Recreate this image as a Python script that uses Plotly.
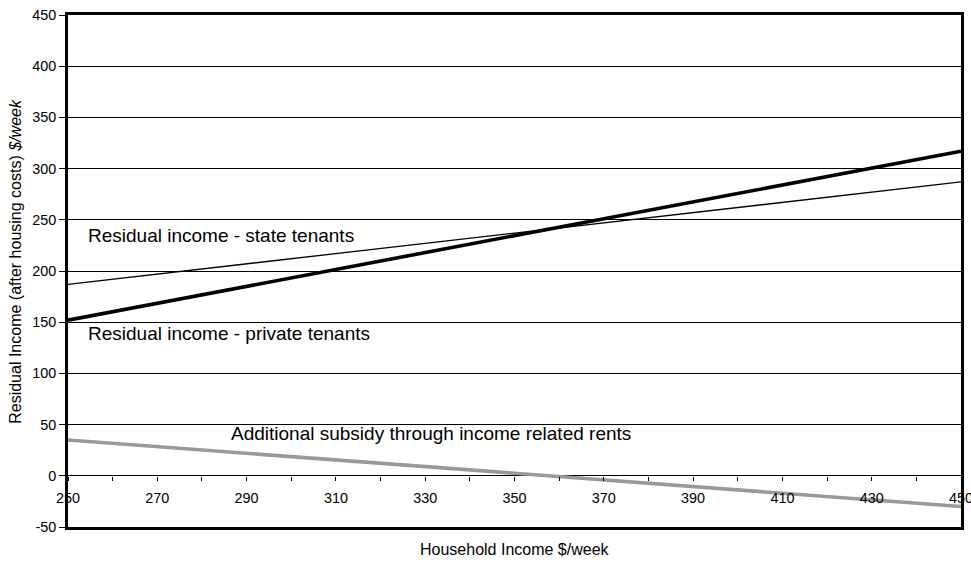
import plotly.graph_objects as go

# Household income ($/week) at the ends of each series
income = [250, 450]

# Residual income after housing costs ($/week)
private_tenants = [152, 317]
state_tenants = [187, 287]
# Additional subsidy through income related rents ($/week)
subsidy = [35, -30]

x_tick_vals = list(range(250, 451, 10))
x_tick_text = [str(v) if (v - 250) % 20 == 0 else "" for v in x_tick_vals]
y_tick_vals = list(range(-50, 451, 50))
y_tick_text = [str(v) for v in y_tick_vals]

FONT = "Arial, Liberation Sans, sans-serif"

fig = go.Figure()

fig.add_trace(go.Scatter(x=income, y=state_tenants, mode="lines",
                         line=dict(color="black", width=1.3), showlegend=False))
fig.add_trace(go.Scatter(x=income, y=private_tenants, mode="lines",
                         line=dict(color="black", width=3.6), showlegend=False))
fig.add_trace(go.Scatter(x=income, y=subsidy, mode="lines",
                         line=dict(color="#999999", width=3.6), showlegend=False,
                         cliponaxis=False))
# invisible trace to activate the x axis drawn along y = 0
fig.add_trace(go.Scatter(x=income, y=[None, None], xaxis="x2", showlegend=False,
                         hoverinfo="skip"))

fig.update_layout(
    width=971, height=565,
    margin=dict(l=68, r=10, t=15, b=38, autoexpand=False),
    paper_bgcolor="white", plot_bgcolor="white",
    font=dict(family=FONT, size=14, color="black"),
    xaxis=dict(range=[250, 450], showgrid=False, zeroline=False,
               showticklabels=False, ticks="", automargin=False,
               showline=True, mirror=True, linecolor="black", linewidth=2.5),
    xaxis2=dict(range=[250, 450], overlaying="x", anchor="free", position=0.1,
                tickmode="array", tickvals=x_tick_vals, ticktext=x_tick_text,
                ticks="outside", ticklen=4, tickcolor="black", tickwidth=1,
                showline=False, showgrid=False, zeroline=False, automargin=False,
                ticklabelstandoff=5, ticklabeloverflow="allow",
                tickfont=dict(family=FONT, size=14.4, color="black")),
    yaxis=dict(range=[-50, 450], tickmode="array", tickvals=y_tick_vals,
               ticktext=y_tick_text, automargin=False,
               showgrid=True, gridcolor="black", gridwidth=1,
               zeroline=True, zerolinecolor="black", zerolinewidth=1,
               ticks="outside", ticklen=6, tickcolor="black", tickwidth=1,
               showline=True, mirror=True, linecolor="black", linewidth=2.5,
               tickfont=dict(family=FONT, size=14.4, color="black")),
)

ann_font = dict(family=FONT, size=19, color="black")
fig.add_annotation(x=254, y=235, text="Residual income - state tenants",
                   showarrow=False, xanchor="left", yanchor="middle", font=ann_font)
fig.add_annotation(x=254, y=139, text="Residual income - private tenants",
                   showarrow=False, xanchor="left", yanchor="middle", font=ann_font)
fig.add_annotation(x=286, y=41, text="Additional subsidy through income related rents",
                   showarrow=False, xanchor="left", yanchor="middle", font=ann_font)

fig.add_annotation(xref="paper", yref="paper", x=0.5, y=0, yshift=-22,
                   text="Household Income $/week", showarrow=False,
                   xanchor="center", yanchor="middle",
                   font=dict(family=FONT, size=16, color="black"))
fig.add_annotation(xref="paper", yref="paper", x=0, xshift=-52, y=0.518,
                   text="Residual Income (after housing costs) <i>$/week</i>",
                   textangle=-90, showarrow=False,
                   xanchor="center", yanchor="middle",
                   font=dict(family=FONT, size=16, color="black"))

fig.write_html("out.html")
